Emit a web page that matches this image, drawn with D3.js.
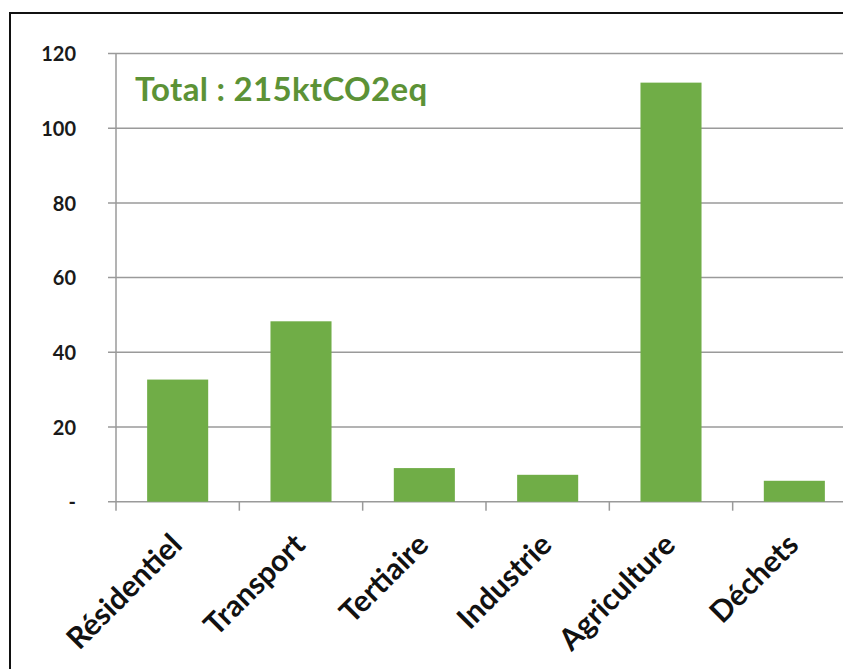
<!DOCTYPE html>
<html>
<head>
<meta charset="utf-8">
<script src="https://cdn.jsdelivr.net/npm/d3@7"></script>
<style>
  html, body { margin: 0; padding: 0; background: #fff; overflow: hidden; }
  svg { display: block; }
</style>
</head>
<body>
<svg id="chart" width="843" height="669"></svg>
<script>
// GHG emissions by sector (ktCO2eq)
const categories = ["Résidentiel", "Transport", "Tertiaire", "Industrie", "Agriculture", "Déchets"];
const emissions = [32.7, 48.3, 9.0, 7.2, 112.2, 5.6];
const yTicks = [0, 20, 40, 60, 80, 100, 120];
const yTickLabels = ["-", "20", "40", "60", "80", "100", "120"];
const totalLabel = "Total : 215ktCO2eq";

const svg = d3.select("#chart");
const W = 843, H = 669;

// outer frame (left and top edges fall inside the view)
svg.append("path")
  .attr("d", `M10,${H + 5} L10,13 L${W + 5},13`)
  .attr("fill", "none")
  .attr("stroke", "#111").attr("stroke-width", 2);

const plot = { left: 116, right: 856, top: 53.5, bottom: 501.7 };

const x = d3.scaleBand()
  .domain(categories)
  .range([plot.left, plot.right])
  .paddingInner(0.505)
  .paddingOuter(0.2525);

const y = d3.scaleLinear()
  .domain([0, 120])
  .range([plot.bottom, plot.top]);

// horizontal gridlines with outside ticks
svg.append("g").selectAll("line")
  .data(yTicks)
  .join("line")
  .attr("x1", plot.left - 8)
  .attr("x2", W + 20)
  .attr("y1", d => y(d))
  .attr("y2", d => y(d))
  .attr("stroke", "#9a9a9a")
  .attr("stroke-width", 1.5);

// y axis labels
const yAxis = d3.axisLeft(y)
  .tickValues(yTicks)
  .tickFormat((d, i) => yTickLabels[i])
  .tickSize(0)
  .tickPadding(0);
svg.append("g")
  .attr("transform", `translate(${plot.left - 40},0)`)
  .call(yAxis)
  .call(g => g.select(".domain").remove())
  .selectAll("text")
  .attr("font-family", "Lato, sans-serif")
  .attr("font-weight", "bold")
  .attr("font-size", 20)
  .attr("fill", "#1a1a1a")
  .attr("dy", "0.36em");

// vertical axis line
svg.append("line")
  .attr("x1", plot.left).attr("x2", plot.left)
  .attr("y1", plot.top).attr("y2", plot.bottom + 9)
  .attr("stroke", "#9a9a9a").attr("stroke-width", 1.5);

// category separators below the baseline
const step = x.step();
svg.append("g").selectAll("line")
  .data(d3.range(1, categories.length))
  .join("line")
  .attr("x1", i => plot.left + i * step)
  .attr("x2", i => plot.left + i * step)
  .attr("y1", plot.bottom)
  .attr("y2", plot.bottom + 9)
  .attr("stroke", "#9a9a9a").attr("stroke-width", 1.5);

// bars
svg.append("g").selectAll("rect")
  .data(categories)
  .join("rect")
  .attr("x", d => x(d))
  .attr("width", x.bandwidth())
  .attr("y", (d, i) => y(emissions[i]))
  .attr("height", (d, i) => y(0) - y(emissions[i]))
  .attr("fill", "#70ad47");

// rotated category labels
svg.append("g").selectAll("text")
  .data(categories)
  .join("text")
  .attr("transform", d => `translate(${x(d) + x.bandwidth() / 2 + 6},${plot.bottom + 45}) rotate(-45)`)
  .attr("text-anchor", "end")
  .attr("font-family", "Lato, sans-serif")
  .attr("font-weight", "bold")
  .attr("font-size", 30)
  .attr("fill", "#111")
  .text(d => d);

// total annotation
svg.append("text")
  .attr("x", 135)
  .attr("y", 100.5)
  .attr("font-family", "Lato, sans-serif")
  .attr("font-weight", "bold")
  .attr("font-size", 33)
  .attr("letter-spacing", 0.3)
  .attr("fill", "#5c9236")
  .text(totalLabel);
</script>
</body>
</html>
